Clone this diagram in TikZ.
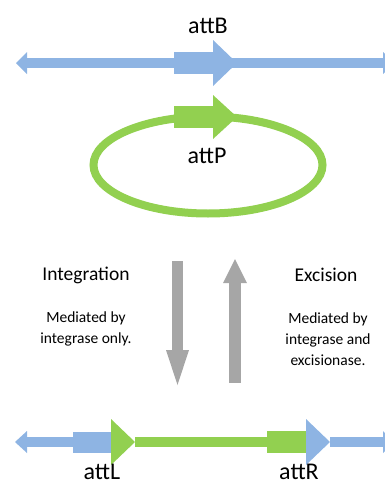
\documentclass[tikz,border=0pt]{standalone}
\usepackage{fontspec}
\setmainfont{Carlito}
\definecolor{dnablue}{HTML}{8EB4E3}
\definecolor{attgreen}{HTML}{92D050}
\definecolor{arrgray}{HTML}{A6A6A6}
\begin{document}
\begin{tikzpicture}[x=1pt,y=-1pt,
  big/.style={font=\fontsize{24}{28}\selectfont, text=black, inner sep=0pt},
  mid/.style={font=\fontsize{19.5}{23}\selectfont, text=black, inner sep=0pt},
  small/.style={font=\fontsize{15.5}{21}\selectfont, text=black, align=center, inner sep=0pt},
  blueshape/.style={fill=dnablue, draw=none},
  greenshape/.style={fill=attgreen, draw=none},
  grayshape/.style={fill=arrgray, draw=none}]
\useasboundingbox (0,0) rectangle (384,485);
% ---- attB line ----
\fill[blueshape] (27,58) rectangle (384,68);
\fill[blueshape] (16,63) -- (27,52) -- (27,74) -- cycle;
\fill[blueshape] (383,52) -- (394,63) -- (383,74) -- cycle;
\fill[blueshape] (174,52) rectangle (213,74);
\fill[blueshape] (213,40) -- (237,63) -- (213,86) -- cycle;
\node[big] (attB) at (208,26) {attB};
% ---- attP circle ----
\draw[attgreen, line width=8] (208,165) ellipse [x radius=114.5, y radius=48.5];
\fill[greenshape] (174,106) rectangle (213,128);
\fill[greenshape] (213,95) -- (237,117) -- (213,139) -- cycle;
\node[big] (attP) at (207,156) {attP};
% ---- gray arrows ----
\fill[grayshape] (172,261) rectangle (183,350);
\fill[grayshape] (166,350) -- (189,350) -- (177.5,385) -- cycle;
\fill[grayshape] (229,283) rectangle (241,383);
\fill[grayshape] (223,283) -- (247,283) -- (235,259) -- cycle;
\node[mid] (integ) at (86,275) {Integration};
\node[mid] (excis) at (326,275) {Excision};
\node[small] (integtxt) at (86,329) {Mediated by\\integrase only.};
\node[small] (excistxt) at (328,339) {Mediated by\\integrase and\\excisionase.};
% ---- attL / attR line ----
\fill[blueshape] (15,442) -- (27,431) -- (27,453) -- cycle;
\fill[blueshape] (27,437) rectangle (73,447);
\fill[blueshape] (73,431.5) rectangle (111,452.5);
\fill[greenshape] (111,419) -- (135,442) -- (111,465) -- cycle;
\fill[greenshape] (135,437) rectangle (267,447);
\fill[greenshape] (267,431) rectangle (306,453);
\fill[blueshape] (330,437) rectangle (384,447);
\fill[blueshape] (306,419) -- (330,442) -- (306,465) -- cycle;
\fill[blueshape] (383,431) -- (394,442) -- (383,453) -- cycle;
\node[big] (attL) at (102,472) {attL};
\node[big] (attR) at (299,472) {attR};
\end{tikzpicture}
\end{document}
